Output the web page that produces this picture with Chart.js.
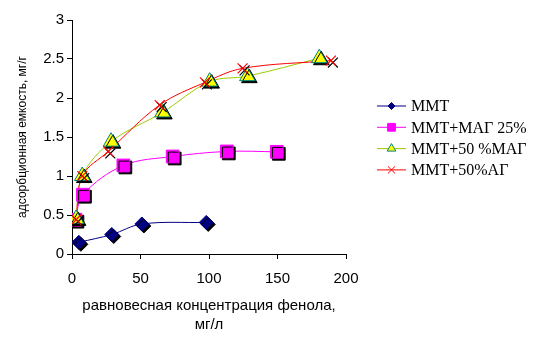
<!DOCTYPE html>
<html>
<head>
<meta charset="utf-8">
<script src="https://cdn.jsdelivr.net/npm/chart.js@4"></script>
<style>
  html, body { margin: 0; padding: 0; background: #fff; }
  #wrap { width: 538px; height: 338px; position: relative; }
</style>
</head>
<body>
<div id="wrap"><canvas id="chart"></canvas></div>
<script>
// данные
const seriesNames = ['ММТ', 'ММТ+МАГ 25%', 'ММТ+50 %МАГ', 'ММТ+50%АГ'];

const mmtX = [5, 29, 51, 98];
const mmtY = [0.15, 0.25, 0.385, 0.405];

const mag25X = [2.5, 8, 37.5, 73.5, 113, 149.5];
const mag25Y = [0.44, 0.76, 1.135, 1.25, 1.315, 1.31];

const mag50X = [3, 7.5, 28.5, 66, 100.5, 128, 180.5];
const mag50Y = [0.45, 1.0, 1.44, 1.815, 2.21, 2.28, 2.51];

const ag50X = [3, 7.5, 26.5, 64, 97, 124.5, 189];
const ag50Y = [0.44, 1.0, 1.315, 1.91, 2.2, 2.38, 2.48];

const xTicks = [0, 50, 100, 150, 200];
const yTicks = [0, 0.5, 1, 1.5, 2, 2.5, 3];

function pts(xs, ys) {
    return xs.map((x, i) => ({ x: x, y: ys[i] }));
}

// стили серий
const styles = [
    { line: '#000080', fill: '#000080', border: '#000080', shape: 'rectRot', r: 7, lr: 3.5 },
    { line: '#FF00FF', fill: '#FF00FF', border: '#FF00FF', shape: 'rect', r: 9, lr: 5.5 },
    { line: '#99CC00', fill: '#FFFF00', border: '#008080', shape: 'triangle', r: 9, lr: 5 },
    { line: '#FF0000', fill: '#FF0000', border: '#FF0000', shape: 'crossRot', r: 7, lr: 5 }
];
const allData = [pts(mmtX, mmtY), pts(mag25X, mag25Y), pts(mag50X, mag50Y), pts(ag50X, ag50Y)];

const datasets = [];
allData.forEach((d, i) => {
    const s = styles[i];
    // линия без маркеров
    datasets.push({
        label: seriesNames[i],
        data: d,
        showLine: true,
        borderColor: s.line,
        borderWidth: 1,
        pointRadius: 0,
        tension: 0.35,
        order: 10 - i
    });
    // маркеры с тенью
    datasets.push({
        label: seriesNames[i] + ' маркеры',
        data: d,
        showLine: false,
        pointStyle: s.shape,
        pointRadius: s.r,
        pointBackgroundColor: s.fill,
        pointBorderColor: s.border,
        pointBorderWidth: i === 3 ? 1.2 : 1,
        shadow: true,
        order: 5 - i
    });
});

const shadowPlugin = {
    id: 'markerShadow',
    beforeDatasetDraw(chart, args) {
        if (args.meta._dataset && args.meta._dataset.shadow) {
            const ctx = chart.ctx;
            ctx.save();
            ctx.shadowColor = '#000';
            ctx.shadowOffsetX = 2;
            ctx.shadowOffsetY = 2;
            ctx.shadowBlur = 0;
        }
    },
    afterDatasetDraw(chart, args) {
        if (args.meta._dataset && args.meta._dataset.shadow) {
            chart.ctx.restore();
        }
    }
};

// легенда справа: линия + маркер + подпись
const legendPlugin = {
    id: 'sideLegend',
    afterDraw(chart) {
        const ctx = chart.ctx;
        ctx.save();
        seriesNames.forEach((name, i) => {
            const s = styles[i];
            const y = 106 + i * 21.3;
            ctx.strokeStyle = s.line;
            ctx.lineWidth = 1;
            ctx.beginPath();
            ctx.moveTo(377, y);
            ctx.lineTo(406, y);
            ctx.stroke();
            ctx.fillStyle = s.fill;
            ctx.strokeStyle = s.border;
            Chart.helpers.drawPoint(ctx, { pointStyle: s.shape, radius: s.lr, borderWidth: 1 }, 391.5, y);
            ctx.fillStyle = '#000';
            ctx.font = '16px "Liberation Serif", "Times New Roman", serif';
            ctx.textBaseline = 'middle';
            ctx.textAlign = 'left';
            ctx.fillText(name, 411, y + 1);
        });
        ctx.restore();
    }
};

const sansFont = '"Liberation Sans", Arial, sans-serif';

new Chart(document.getElementById('chart'), {
    type: 'scatter',
    data: { datasets: datasets },
    options: {
        responsive: true,
        maintainAspectRatio: false,
        animation: false,
        layout: { padding: { left: 0, right: 192, top: 20, bottom: 0 } },
        plugins: {
            legend: { display: false },
            tooltip: { enabled: false }
        },
        scales: {
            x: {
                type: 'linear',
                min: 0,
                max: 200,
                afterBuildTicks(axis) { axis.ticks = xTicks.map(v => ({ value: v })); },
                afterFit(axis) { axis.height = 84; },
                grid: { drawOnChartArea: false, color: '#000', tickLength: 5 },
                border: { color: '#000', width: 1 },
                ticks: { color: '#000', font: { family: sansFont, size: 15 }, padding: 11, maxRotation: 0,
                         callback: v => String(v) },
                title: {
                    display: true,
                    text: ['равновесная концентрация фенола,', 'мг/л'],
                    color: '#000',
                    font: { family: sansFont, size: 15, lineHeight: 1.25 },
                    padding: { top: 2 }
                }
            },
            y: {
                min: 0,
                max: 3,
                afterBuildTicks(axis) { axis.ticks = yTicks.map(v => ({ value: v })); },
                afterFit(axis) { axis.width = 72; },
                grid: { drawOnChartArea: false, color: '#000', tickLength: 5 },
                border: { color: '#000', width: 1 },
                ticks: { color: '#000', font: { family: sansFont, size: 15 }, padding: 3,
                         callback: v => String(v) },
                title: {
                    display: true,
                    text: 'адсорбционная емкость, мг/г',
                    color: '#000',
                    font: { family: sansFont, size: 12 },
                    padding: { top: 15, bottom: 0 }
                }
            }
        }
    },
    plugins: [shadowPlugin, legendPlugin]
});
</script>
</body>
</html>
